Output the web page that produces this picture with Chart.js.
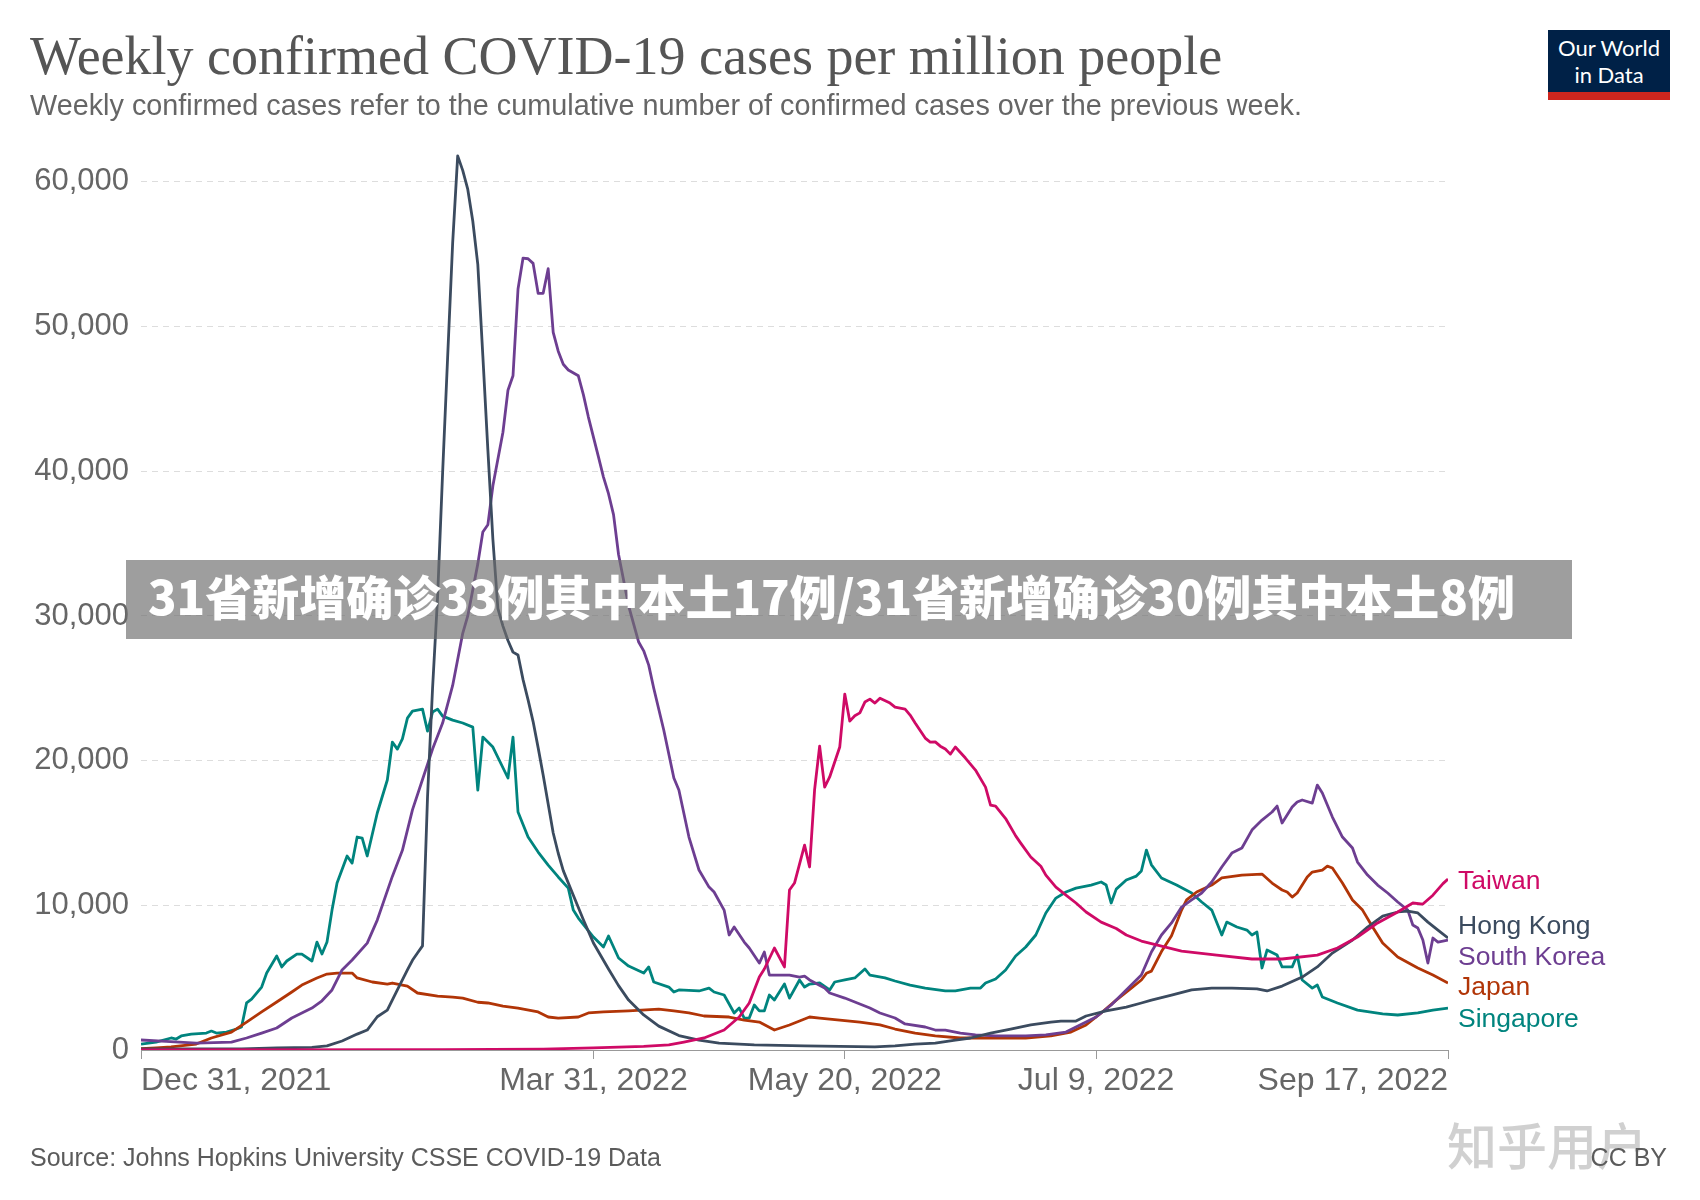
<!DOCTYPE html>
<html>
<head>
<meta charset="utf-8">
<title>Weekly confirmed COVID-19 cases per million people</title>
<script src="https://cdn.jsdelivr.net/npm/chart.js@4.4.1/dist/chart.umd.min.js"></script>
<style>
  body { margin: 0; background: #fff; }
  #page { position: relative; width: 1700px; height: 1200px; overflow: hidden; font-family: 'Liberation Sans', Arial, sans-serif; }
  #myChart { position: absolute; left: 0; top: 0; }
  .title { position: absolute; left: 30px; top: 29px; margin: 0; font: 400 54px/1 'Liberation Serif', 'Times New Roman', serif; color: #555; white-space: nowrap; }
  .subtitle { position: absolute; left: 30px; top: 91px; font-size: 28.8px; line-height: 1; color: #666; white-space: nowrap; }
  .logo { position: absolute; left: 1548px; top: 30px; width: 122px; height: 62px; background: #002147; border-bottom: 8px solid #ce261e; color: #fff; font-family: Lato, 'Liberation Sans', sans-serif; font-size: 22px; line-height: 1; text-align: center; }
  .logo div { position: absolute; left: 0; width: 122px; }
  .source { position: absolute; left: 30px; top: 1145px; font-size: 25px; line-height: 1; color: #5b5b5b; white-space: nowrap; }
  .ccby { position: absolute; right: 33px; top: 1145px; font-size: 25px; line-height: 1; color: #5b5b5b; }
  .watermark { position: absolute; left: 1447px; top: 1118px; font: 500 50px/1 'Noto Sans CJK SC', sans-serif; color: rgba(150, 150, 150, 0.45); white-space: nowrap; }
  .banner { position: absolute; left: 126px; top: 560px; width: 1446px; height: 79px; background: rgba(110, 110, 110, 0.67); }
  .banner span { position: absolute; left: 22px; top: -5px; font: 900 47px/79px 'Noto Sans CJK SC', sans-serif; color: #fff; white-space: nowrap; }
</style>
</head>
<body>
<div id="page">
  <canvas id="myChart" width="1700" height="1200"></canvas>
  <div class="title">Weekly confirmed COVID-19 cases per million people</div>
  <div class="subtitle">Weekly confirmed cases refer to the cumulative number of confirmed cases over the previous week.</div>
  <div class="logo"><div style="top:7px">Our World</div><div style="top:34px">in Data</div></div>
  <div class="source">Source: Johns Hopkins University CSSE COVID-19 Data</div>
  <div class="watermark">知乎用户</div>
  <div class="ccby">CC BY</div>
  <div class="banner"><span>31省新增确诊33例其中本土17例/31省新增确诊30例其中本土8例</span></div>
</div>
<script>
'use strict';

// x values are days since Dec 31, 2021
let tickDays = [0, 90, 140, 190, 260];
let tickLabels = ['Dec 31, 2021', 'Mar 31, 2022', 'May 20, 2022', 'Jul 9, 2022', 'Sep 17, 2022'];
let yTicks = [0, 10000, 20000, 30000, 40000, 50000, 60000];

let countries = ['Taiwan', 'Hong Kong', 'South Korea', 'Japan', 'Singapore'];
let colors = ['#cf0a66', '#3b4b5f', '#6d3e91', '#b13507', '#00847e'];

let taiwanDays = [0, 60, 80, 90, 100, 105, 108, 112, 116, 119, 121, 123, 124, 126, 128, 129, 130, 132, 133, 134, 135, 136, 137, 139, 140, 141, 142, 143, 144, 145, 146, 147, 149, 150, 152, 153, 154, 156, 157, 158, 159, 160, 161, 162, 164, 166, 168, 169, 170, 172, 174, 175, 177, 179, 180, 182, 184, 186, 188, 191, 194, 196, 199, 202, 207, 214, 221, 227, 234, 238, 242, 246, 250, 253, 255, 257, 259, 260];
let taiwanCases = [10, 20, 60, 150, 250, 350, 550, 830, 1380, 2280, 3250, 5050, 5600, 7050, 5740, 11060, 11540, 14160, 12650, 18000, 21000, 18170, 18870, 20940, 24600, 22730, 23100, 23300, 24050, 24250, 23980, 24320, 23980, 23700, 23560, 23150, 22600, 21560, 21280, 21300, 21000, 20800, 20450, 20940, 20180, 19350, 18170, 16930, 16860, 16000, 14800, 14300, 13340, 12700, 12090, 11260, 10710, 10160, 9540, 8840, 8400, 7950, 7530, 7260, 6840, 6560, 6290, 6290, 6560, 7050, 7810, 8780, 9540, 10160, 10090, 10700, 11500, 11820];

let hongKongDays = [0, 20, 27, 34, 37, 40, 43, 45, 47, 49, 51, 53, 54, 55, 56, 57, 58, 59, 60, 61, 62, 63, 64, 65, 66, 67, 68, 69, 70, 71, 72, 73, 74, 75, 76, 77, 78, 79, 80, 81, 82, 83, 84, 86, 88, 90, 93, 95, 97, 100, 103, 107, 111, 115, 122, 132, 146, 150, 154, 158, 162, 165, 169, 173, 177, 181, 183, 186, 188, 192, 196, 199, 201, 205, 209, 213, 217, 222, 224, 227, 231, 234, 237, 241, 244, 247, 250, 252, 254, 256, 258, 260];
let hongKongCases = [70, 80, 140, 180, 280, 620, 1100, 1380, 2300, 2760, 4150, 5530, 6200, 6700, 7200, 17500, 25000, 31300, 39900, 47900, 55800, 61800, 60800, 59500, 57300, 54300, 48000, 41500, 35300, 30500, 29300, 28300, 27500, 27300, 25600, 24200, 22700, 20900, 19000, 17000, 15000, 13600, 12400, 10700, 9000, 7400, 5600, 4450, 3450, 2420, 1650, 1000, 680, 480, 350, 280, 210, 280, 400, 480, 690, 830, 1170, 1450, 1730, 1930, 2000, 2000, 2350, 2700, 2970, 3250, 3450, 3800, 4150, 4280, 4280, 4220, 4080, 4420, 5040, 5740, 6700, 7600, 8500, 9260, 9540, 9600, 9470, 8840, 8290, 7740];

let southKoreaDays = [0, 5, 11, 18, 21, 24, 27, 30, 34, 36, 38, 40, 42, 45, 47, 50, 52, 54, 56, 58, 60, 62, 64, 65, 67, 68, 69, 70, 72, 73, 74, 75, 76, 77, 78, 79, 80, 81, 82, 83, 84, 85, 87, 88, 89, 91, 92, 93, 94, 95, 97, 99, 100, 101, 102, 104, 106, 107, 109, 111, 113, 114, 116, 117, 118, 120, 121, 123, 124, 125, 129, 131, 132, 133, 136, 137, 140, 142, 145, 147, 150, 152, 156, 158, 160, 163, 166, 170, 176, 180, 184, 186, 190, 193, 196, 199, 201, 203, 205, 207, 209, 211, 213, 215, 217, 219, 221, 223, 225, 226, 227, 229, 230, 231, 233, 234, 235, 237, 239, 241, 242, 244, 246, 248, 250, 252, 253, 254, 255, 256, 257, 258, 260];
let southKoreaCases = [690, 600, 480, 550, 830, 1170, 1520, 2210, 2900, 3400, 4150, 5530, 6220, 7390, 8980, 12000, 13800, 16600, 18700, 20800, 22600, 25200, 28800, 30000, 33600, 35800, 36300, 39000, 42700, 45600, 46600, 52600, 54740, 54690, 54370, 52300, 52300, 54000, 49600, 48300, 47400, 47000, 46600, 45300, 43750, 41000, 39600, 38450, 37000, 34250, 30700, 28200, 27590, 26600, 25000, 22100, 18800, 17970, 14720, 12440, 11260, 10920, 9670, 7950, 8500, 7460, 7050, 6010, 6770, 5180, 5180, 5040, 5110, 4840, 4280, 3940, 3590, 3320, 2900, 2560, 2210, 1800, 1590, 1380, 1380, 1170, 1040, 970, 970, 1040, 1240, 1590, 2280, 3110, 4150, 5180, 6770, 7950, 8780, 9880, 10370, 10850, 11610, 12650, 13610, 13960, 15200, 15890, 16450, 16860, 15690, 16790, 17140, 17280, 17070, 18310, 17760, 16100, 14720, 13960, 12990, 12090, 11400, 10850, 10230, 9670, 8640, 8430, 7600, 6010, 7740, 7460, 7600];

let japanDays = [0, 3, 6, 11, 14, 18, 21, 24, 27, 30, 32, 35, 37, 39, 42, 43, 46, 49, 50, 53, 55, 59, 62, 64, 67, 69, 72, 75, 79, 81, 83, 87, 89, 92, 97, 103, 106, 109, 112, 117, 120, 123, 126, 129, 131, 133, 135, 137, 143, 147, 150, 154, 158, 163, 170, 176, 181, 185, 188, 191, 194, 197, 199, 200, 201, 203, 205, 207, 208, 210, 213, 215, 219, 223, 225, 227, 228, 229, 230, 232, 233, 235, 236, 237, 239, 241, 243, 245, 247, 250, 254, 257, 260];
let japanCases = [100, 150, 210, 410, 830, 1240, 1930, 2630, 3320, 4010, 4490, 4980, 5250, 5320, 5320, 4980, 4700, 4560, 4630, 4420, 3940, 3730, 3660, 3590, 3300, 3250, 3040, 2900, 2630, 2280, 2210, 2280, 2560, 2630, 2700, 2830, 2700, 2560, 2350, 2280, 2070, 1930, 1380, 1730, 2000, 2280, 2210, 2140, 1930, 1730, 1450, 1170, 970, 830, 830, 830, 970, 1240, 1730, 2560, 3450, 4280, 4840, 5300, 5450, 6800, 7900, 9670, 10370, 10920, 11400, 11890, 12090, 12160, 11540, 11060, 10920, 10570, 10850, 11960, 12300, 12440, 12710, 12580, 11540, 10370, 9670, 8500, 7390, 6430, 5670, 5180, 4630];

let singaporeDays = [0, 3, 6, 7, 8, 10, 13, 14, 15, 17, 19, 20, 21, 22, 24, 25, 27, 28, 29, 31, 32, 34, 35, 36, 37, 38, 39, 41, 42, 43, 44, 45, 47, 49, 50, 51, 52, 53, 54, 56, 57, 58, 59, 60, 62, 64, 66, 67, 68, 70, 73, 74, 75, 77, 79, 81, 83, 85, 86, 87, 90, 92, 93, 95, 97, 100, 101, 102, 105, 106, 107, 111, 113, 114, 116, 118, 119, 120, 121, 122, 123, 124, 125, 126, 128, 129, 131, 132, 133, 135, 137, 138, 140, 142, 144, 145, 148, 150, 153, 156, 160, 162, 165, 167, 168, 170, 172, 174, 176, 178, 180, 182, 184, 186, 189, 191, 192, 193, 194, 196, 198, 199, 200, 201, 203, 206, 209, 211, 213, 215, 216, 218, 220, 221, 222, 223, 224, 226, 227, 229, 230, 231, 233, 234, 235, 238, 242, 247, 250, 254, 257, 260];
let singaporeCases = [410, 550, 830, 760, 970, 1100, 1170, 1310, 1170, 1240, 1450, 1590, 3250, 3520, 4350, 5320, 6500, 5740, 6150, 6630, 6630, 6150, 7460, 6630, 7460, 9670, 11540, 13410, 12920, 14720, 14650, 13410, 16380, 18660, 21280, 20800, 21500, 22940, 23420, 23560, 22040, 23360, 23560, 23080, 22800, 22600, 22320, 17970, 21630, 20940, 18800, 21630, 16450, 14720, 13680, 12780, 11960, 11190, 9670, 9120, 7810, 7120, 7880, 6360, 5800, 5320, 5740, 4700, 4350, 4010, 4150, 4080, 4280, 4010, 3800, 2560, 2900, 2210, 2210, 3110, 2700, 2700, 3800, 3450, 4560, 3590, 4840, 4350, 4560, 4630, 4150, 4700, 4840, 4980, 5600, 5180, 4980, 4770, 4490, 4280, 4080, 4080, 4280, 4280, 4630, 4910, 5530, 6500, 7120, 7950, 9470, 10500, 10920, 11190, 11400, 11610, 11400, 10160, 11120, 11750, 12020, 12370, 13820, 12800, 11890, 11400, 10850, 10230, 9670, 7950, 8840, 8500, 8290, 7950, 8150, 5670, 6910, 6560, 5740, 5740, 6560, 4840, 4280, 4490, 3660, 3250, 2760, 2490, 2420, 2560, 2760, 2900];

let allDays = [taiwanDays, hongKongDays, southKoreaDays, japanDays, singaporeDays];
let allCases = [taiwanCases, hongKongCases, southKoreaCases, japanCases, singaporeCases];

// labels at the line ends get nudged apart where they would overlap
let labelNudge = [3, -11, 18, 5, 12];

let fontFamily = "'Liberation Sans', Arial, sans-serif";

function makePoints(days, cases) {
  let points = [];
  for (let i = 0; i < days.length; i++) {
    points.push({ x: days[i], y: cases[i] });
  }
  return points;
}

let datasets = [];
for (let i = 0; i < countries.length; i++) {
  datasets.push({
    label: countries[i],
    data: makePoints(allDays[i], allCases[i]),
    borderColor: colors[i],
    backgroundColor: colors[i],
    borderWidth: 2.8,
    borderJoinStyle: 'round',
    pointRadius: 0,
    tension: 0,
    fill: false
  });
}

let endLabels = {
  id: 'endLabels',
  afterDatasetsDraw(chart) {
    let ctx = chart.ctx;
    let yScale = chart.scales.y;
    ctx.save();
    ctx.font = '26.5px ' + fontFamily;
    ctx.textBaseline = 'middle';
    ctx.textAlign = 'left';
    chart.data.datasets.forEach((ds, i) => {
      let last = ds.data[ds.data.length - 1];
      ctx.fillStyle = ds.borderColor;
      ctx.fillText(ds.label, chart.chartArea.right + 10, yScale.getPixelForValue(last.y) + labelNudge[i]);
    });
    ctx.restore();
  }
};

let ctx = document.getElementById('myChart').getContext('2d');
let myChart = new Chart(ctx, {
  type: 'line',
  data: { datasets: datasets },
  plugins: [endLabels],
  options: {
    responsive: false,
    animation: false,
    devicePixelRatio: 1,
    layout: { padding: { top: 153, right: 252, bottom: 90, left: 0 } },
    plugins: {
      legend: { display: false },
      tooltip: { enabled: false }
    },
    scales: {
      x: {
        type: 'linear',
        min: 0,
        max: 260,
        afterBuildTicks: (scale) => { scale.ticks = tickDays.map(d => ({ value: d })); },
        afterFit: (scale) => { scale.height = 60; },
        ticks: {
          callback: (v) => tickLabels[tickDays.indexOf(v)],
          color: '#666',
          font: { size: 32, family: fontFamily },
          maxRotation: 0,
          autoSkip: false,
          align: 'inner',
          padding: 3
        },
        grid: { drawOnChartArea: false, tickLength: 9, color: '#999', tickColor: '#999' },
        border: { display: true, color: '#999', width: 1 }
      },
      y: {
        min: 0,
        max: 62000,
        afterBuildTicks: (scale) => { scale.ticks = yTicks.map(v => ({ value: v })); },
        afterFit: (scale) => { scale.width = 141; },
        ticks: {
          callback: (v) => v.toLocaleString('en-US'),
          color: '#666',
          font: { size: 31, family: fontFamily },
          padding: 12
        },
        grid: { color: '#dddddd', drawTicks: false, lineWidth: 1 },
        border: { display: false, dash: [6, 5] }
      }
    }
  }
});
</script>
</body>
</html>
